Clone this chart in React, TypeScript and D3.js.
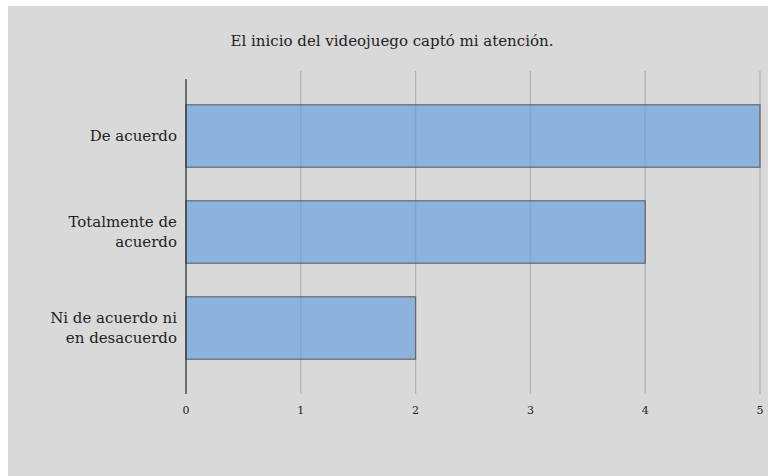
import React from "react";
import * as d3 from "d3";

const categories = ["De acuerdo", "Totalmente de\nacuerdo", "Ni de acuerdo ni\nen desacuerdo"];
const values = [5, 4, 2];
const ticks = [0, 1, 2, 3, 4, 5];
const title = "El inicio del videojuego captó mi atención.";

const W = 769;
const H = 476;
const FONT = "'DejaVu Serif', 'Liberation Serif', serif";

export default function App() {
  const x = d3.scaleLinear().domain([0, 5]).range([186, 760]);
  const y = d3.scaleBand<string>().domain(categories).range([88, 376]).paddingInner(0.35).paddingOuter(0.175);
  const gridTop = 71;
  const gridBottom = 394;

  return (
    <svg
      width={W}
      height={H}
      style={{ position: "absolute", left: 0, top: 0 }}
      fontFamily={FONT}
    >
      <rect x={0} y={0} width={W} height={H} fill="#ffffff" />
      <rect x={8} y={6} width={760} height={470} fill="#d9d9d9" />
      <text x={392} y={46} textAnchor="middle" fontSize={15} fill="#222">
        {title}
      </text>
      {ticks.slice(1).map((t) => (
        <line key={t} x1={x(t)} x2={x(t)} y1={gridTop} y2={gridBottom} stroke="#b3b3b3" strokeWidth={1.3} />
      ))}
      {categories.map((c, i) => (
        <rect
          key={c}
          x={x(0)}
          y={y(c)}
          width={x(values[i]) - x(0)}
          height={y.bandwidth()}
          fill="rgba(90,155,222,0.62)"
          stroke="#666"
          strokeWidth={1.2}
        />
      ))}
      <line x1={x(0)} x2={x(0)} y1={79} y2={gridBottom} stroke="#333" strokeWidth={1.3} />
      {categories.map((c) => {
        const lines = c.split("\n");
        const cy = (y(c) as number) + y.bandwidth() / 2;
        const lh = 20;
        const start = cy - ((lines.length - 1) * lh) / 2;
        return (
          <text key={c} textAnchor="end" fontSize={15} fill="#222">
            {lines.map((l, j) => (
              <tspan key={j} x={177} y={start + j * lh} dy="0.35em">
                {l}
              </tspan>
            ))}
          </text>
        );
      })}
      {ticks.map((t) => (
        <text key={t} x={x(t)} y={410} dy="0.35em" textAnchor="middle" fontSize={11} fill="#222">
          {t}
        </text>
      ))}
    </svg>
  );
}
